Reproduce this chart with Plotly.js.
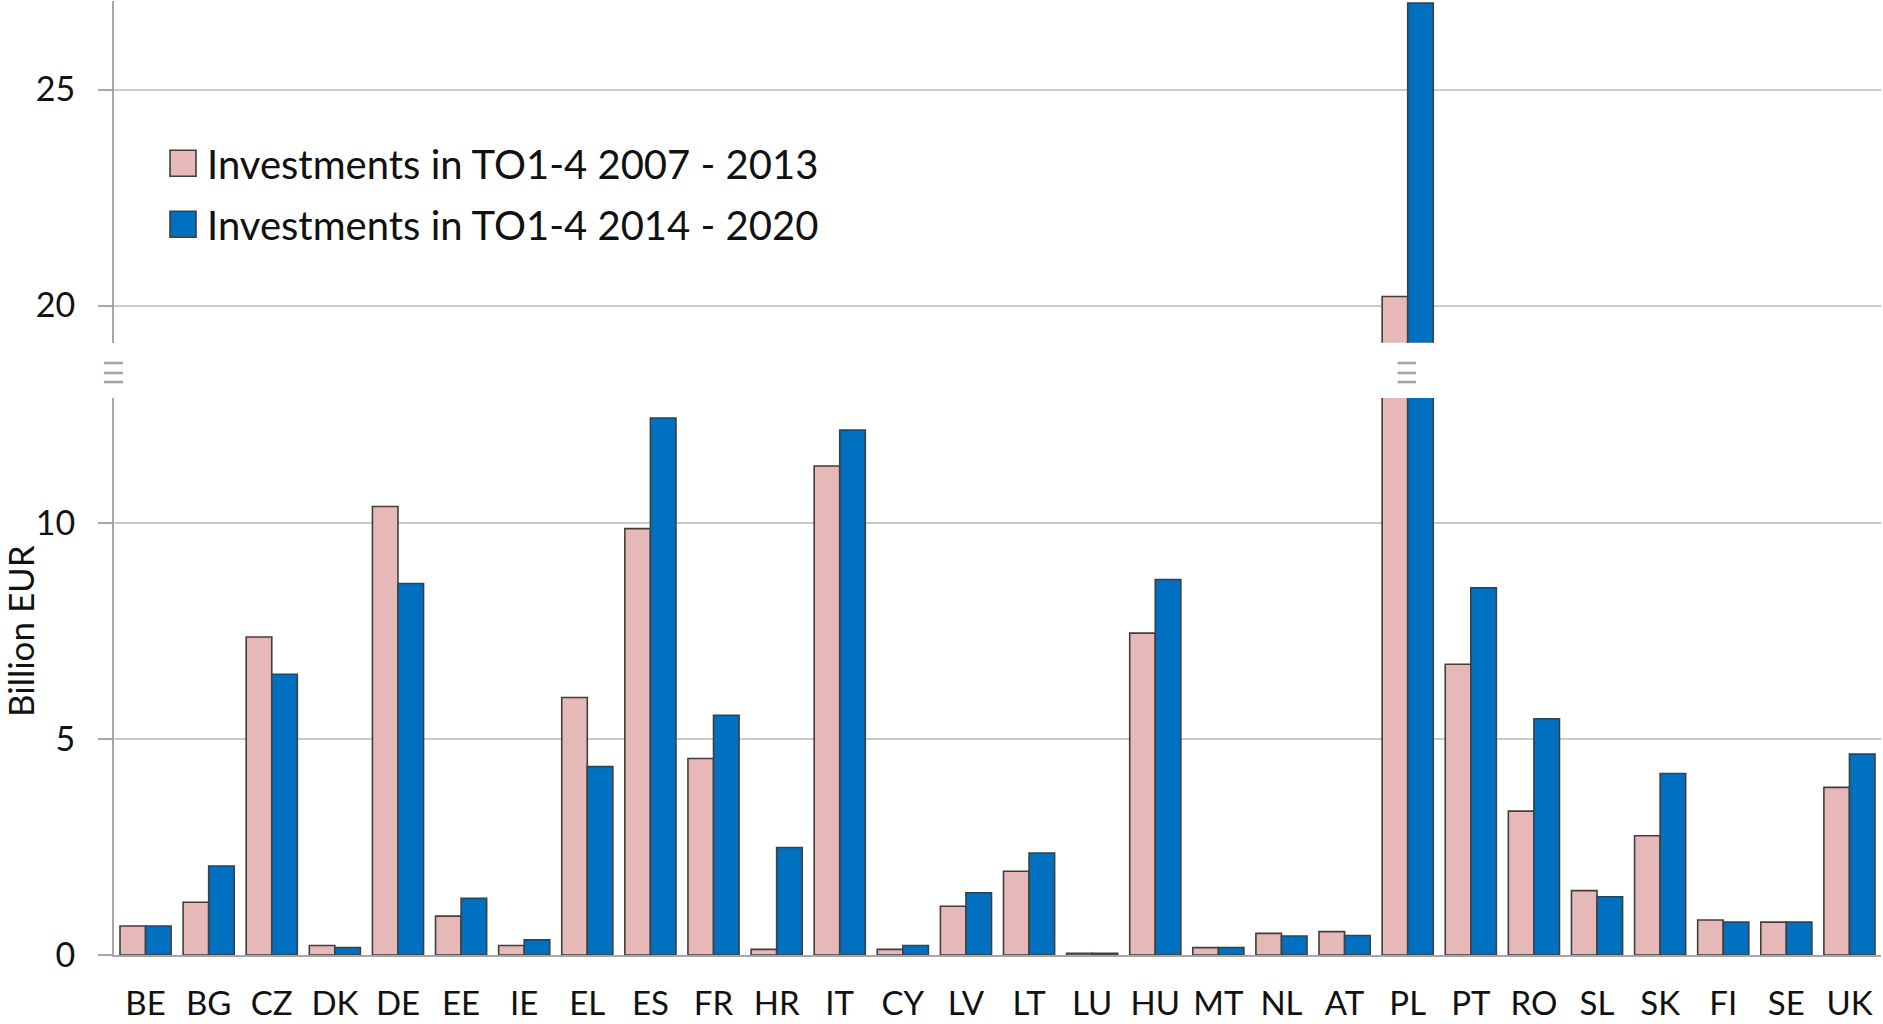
<!DOCTYPE html>
<html>
<head>
<meta charset="utf-8">
<script src="https://cdn.plot.ly/plotly-3.0.1.min.js"></script>
<style>
  html, body { margin: 0; padding: 0; background: #ffffff; }
  #chart { width: 1883px; height: 1024px; }
</style>
</head>
<body>
<div id="chart"></div>
<script>
// ---- Data (billion EUR) ----
const categories = ['BE','BG','CZ','DK','DE','EE','IE','EL','ES','FR','HR','IT','CY','LV','LT','LU','HU','MT','NL','AT','PL','PT','RO','SL','SK','FI','SE','UK'];
const seriesNames = ['Investments in TO1-4 2007 - 2013', 'Investments in TO1-4 2014 - 2020'];
const inv2007_2013 = [0.67,1.22,7.36,0.22,10.38,0.90,0.22,5.96,9.87,4.55,0.13,11.32,0.13,1.13,1.94,0.04,7.45,0.17,0.50,0.54,20.21,6.73,3.33,1.49,2.76,0.81,0.76,3.88];
const inv2014_2020 = [0.67,2.06,6.50,0.17,8.60,1.31,0.35,4.36,12.43,5.55,2.49,12.15,0.22,1.44,2.36,0.04,8.69,0.17,0.44,0.45,27.00,8.50,5.47,1.35,4.20,0.76,0.76,4.65];
const lowerTicks = [0, 5, 10];
const upperTicks = [20, 25];
const breakCategory = 'PL';

// ---- Styles ----
const FONT = 'Lato, "Open Sans", sans-serif';
const pink = '#E6B9B8';
const blue = '#0070C0';
const edge = '#3F3F3F';
const axisGrey = '#A6A6A6';
const gridGrey = '#CACACA';
const textCol = '#111111';

function barTrace(values, name, color, xa, ya, showLegend, group) {
  return {
    type: 'bar',
    x: categories,
    y: values,
    name: name,
    xaxis: xa,
    yaxis: ya,
    legendgroup: group,
    showlegend: showLegend,
    marker: { color: color, line: { color: edge, width: 1.6 } },
    hoverinfo: 'x+y+name'
  };
}

const data = [
  barTrace(inv2007_2013, seriesNames[0], pink, 'x', 'y', true, 'g1'),
  barTrace(inv2014_2020, seriesNames[1], blue, 'x', 'y', true, 'g2'),
  barTrace(inv2007_2013, seriesNames[0], pink, 'x2', 'y2', false, 'g1'),
  barTrace(inv2014_2020, seriesNames[1], blue, 'x2', 'y2', false, 'g2')
];

const commonY = {
  ticks: 'outside',
  ticklen: 14,
  tickwidth: 2,
  tickcolor: axisGrey,
  showline: true,
  linecolor: axisGrey,
  linewidth: 2,
  showgrid: true,
  gridcolor: gridGrey,
  gridwidth: 1.6,
  zeroline: false,
  tickfont: { family: FONT, size: 34, color: textCol },
  ticklabelstandoff: 16,
  fixedrange: true
};

// break marks (three short grey strokes)
const breakY = [0.6205, 0.6101, 0.6006];
const shapes = [];
const pi = categories.indexOf(breakCategory);
breakY.forEach(function (yy) {
  shapes.push({ type: 'line', xref: 'paper', yref: 'paper', x0: -0.0057, x1: 0.0051, y0: yy, y1: yy,
                line: { color: axisGrey, width: 2.6 } });
  shapes.push({ type: 'line', xref: 'x', yref: 'paper', x0: pi - 0.16, x1: pi + 0.13, y0: yy, y1: yy,
                line: { color: axisGrey, width: 2.6 } });
});

const layout = {
  width: 1883,
  height: 1024,
  margin: { l: 114, r: 2, t: 1, b: 69 },
  paper_bgcolor: '#ffffff',
  plot_bgcolor: '#ffffff',
  font: { family: FONT, color: textCol },
  barmode: 'group',
  bargap: 0.19,
  bargroupgap: 0,
  showlegend: true,
  legend: {
    x: 0.030, xanchor: 'left',
    y: 0.864, yanchor: 'top',
    bgcolor: 'rgba(0,0,0,0)',
    font: { family: FONT, size: 40, color: textCol },
    traceorder: 'grouped',
    tracegroupgap: 6
  },
  xaxis: {
    domain: [0, 1],
    anchor: 'y',
    type: 'category',
    showline: true,
    linecolor: axisGrey,
    linewidth: 2,
    ticks: '',
    showgrid: false,
    tickfont: { family: FONT, size: 33, color: textCol },
    ticklabelstandoff: 18,
    fixedrange: true
  },
  xaxis2: {
    domain: [0, 1],
    anchor: 'y2',
    matches: 'x',
    type: 'category',
    showline: false,
    showgrid: false,
    ticks: '',
    showticklabels: false,
    fixedrange: true
  },
  yaxis: Object.assign({}, commonY, {
    domain: [0, 0.5839],
    anchor: 'x',
    range: [0, 12.894],
    tickmode: 'array',
    tickvals: lowerTicks
  }),
  yaxis2: Object.assign({}, commonY, {
    domain: [0.6418, 1],
    anchor: 'x2',
    range: [19.14, 27.05],
    tickmode: 'array',
    tickvals: upperTicks
  }),
  shapes: shapes,
  annotations: [{
    text: 'Billion EUR',
    xref: 'paper', yref: 'paper',
    x: -0.0532, y: 0.3396,
    xanchor: 'center', yanchor: 'middle',
    textangle: -90,
    showarrow: false,
    font: { family: FONT, size: 35, color: textCol }
  }]
};

Plotly.newPlot('chart', data, layout, { displayModeBar: false, responsive: false }).then(function (gd) {
  // enlarge the legend swatches to the size used in the original chart
  const paths = gd.querySelectorAll('.legend .legendpoints path');
  paths.forEach(function (p) {
    const d = p.getAttribute('d') || '';
    if (/^M6,6H-6V-6H6Z$/.test(d.replace(/\s/g, ''))) {
      p.setAttribute('d', 'M9,13H-17V-13H9Z');
    }
  });
});
</script>
</body>
</html>
